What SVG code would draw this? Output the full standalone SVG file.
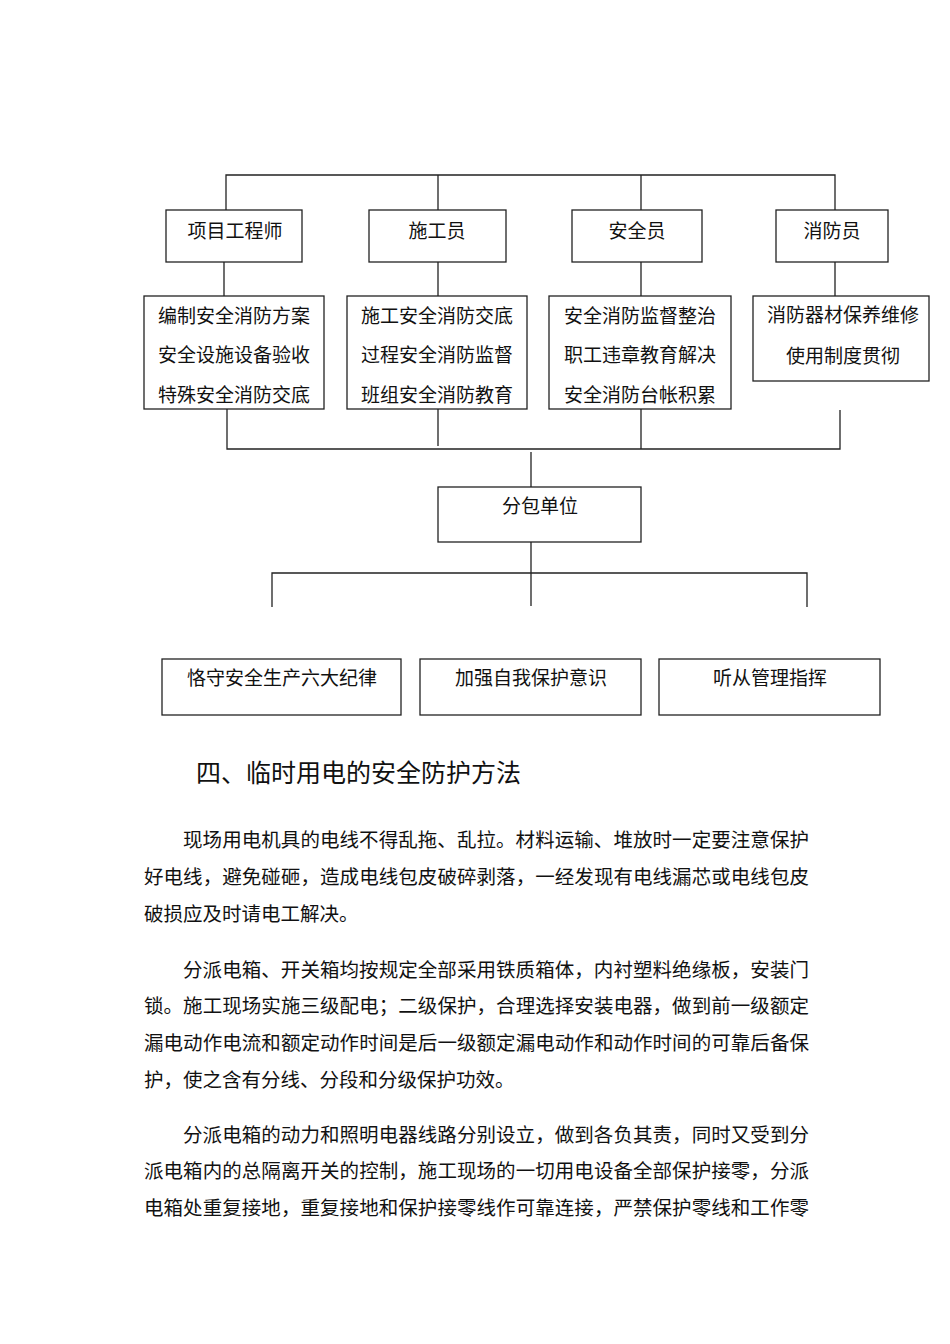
<svg xmlns="http://www.w3.org/2000/svg" width="950" height="1344" viewBox="0 0 950 1344">
<style>
.b{fill:#fff;stroke:#222;stroke-width:1.3}
.c{fill:none;stroke:#222;stroke-width:1.3}
.t{font-family:"Noto Sans CJK SC","Liberation Serif",serif;font-size:19px;fill:#111;text-anchor:middle}
.h{font-family:"Noto Sans CJK SC","Liberation Serif",serif;font-size:25px;fill:#111}
.p{font-family:"Noto Sans CJK SC","Liberation Serif",serif;font-size:19.5px;fill:#111}
</style>
<rect width="950" height="1344" fill="#fff"/>
<g id="connectors" class="c">
<path d="M226 210V175H835V210M438 175V210M641 175V210"/>
<path d="M224 262V296M438 262V296M641 262V296M835 262V296"/>
<path d="M227 409V449H840V410M438 409V446M641 409V449"/>
<path d="M531 452V487"/>
<path d="M531 542V606M272 607V573H807V607"/>
</g>
<g id="n1"><rect class="b" x="166" y="210" width="136" height="52"/><text class="t" x="235" y="238">项目工程师</text></g>
<g id="n2"><rect class="b" x="369" y="210" width="137" height="52"/><text class="t" x="437" y="238">施工员</text></g>
<g id="n3"><rect class="b" x="572" y="210" width="130" height="52"/><text class="t" x="637" y="238">安全员</text></g>
<g id="n4"><rect class="b" x="776" y="210" width="112" height="52"/><text class="t" x="832" y="238">消防员</text></g>
<g id="n5"><rect class="b" x="144" y="296" width="180" height="113"/><text class="t" x="234" y="323">编制安全消防方案</text><text class="t" x="234" y="362">安全设施设备验收</text><text class="t" x="234" y="402">特殊安全消防交底</text></g>
<g id="n6"><rect class="b" x="347" y="296" width="180" height="113"/><text class="t" x="437" y="323">施工安全消防交底</text><text class="t" x="437" y="362">过程安全消防监督</text><text class="t" x="437" y="402">班组安全消防教育</text></g>
<g id="n7"><rect class="b" x="549" y="296" width="182" height="113"/><text class="t" x="640" y="323">安全消防监督整治</text><text class="t" x="640" y="362">职工违章教育解决</text><text class="t" x="640" y="402">安全消防台帐积累</text></g>
<g id="n8"><rect class="b" x="753" y="296" width="176" height="85"/><text class="t" x="843" y="322">消防器材保养维修</text><text class="t" x="843" y="363">使用制度贯彻</text></g>
<g id="n9"><rect class="b" x="438" y="487" width="203" height="55"/><text class="t" x="540" y="513">分包单位</text></g>
<g id="n10"><rect class="b" x="162" y="659" width="239" height="56"/><text class="t" x="282" y="685">恪守安全生产六大纪律</text></g>
<g id="n11"><rect class="b" x="420" y="659" width="221" height="56"/><text class="t" x="531" y="685">加强自我保护意识</text></g>
<g id="n12"><rect class="b" x="659" y="659" width="221" height="56"/><text class="t" x="770" y="685">听从管理指挥</text></g>
<text class="h" x="196" y="782">四、临时用电的安全防护方法</text>
<g id="body" class="p">
<text x="183" y="847" textLength="626" lengthAdjust="spacing">现场用电机具的电线不得乱拖、乱拉。材料运输、堆放时一定要注意保护</text>
<text x="144" y="884" textLength="665" lengthAdjust="spacing">好电线，避免碰砸，造成电线包皮破碎剥落，一经发现有电线漏芯或电线包皮</text>
<text x="144" y="921">破损应及时请电工解决。</text>
<text x="183" y="977" textLength="626" lengthAdjust="spacing">分派电箱、开关箱均按规定全部采用铁质箱体，内衬塑料绝缘板，安装门</text>
<text x="144" y="1013" textLength="665" lengthAdjust="spacing">锁。施工现场实施三级配电；二级保护，合理选择安装电器，做到前一级额定</text>
<text x="144" y="1050" textLength="665" lengthAdjust="spacing">漏电动作电流和额定动作时间是后一级额定漏电动作和动作时间的可靠后备保</text>
<text x="144" y="1087">护，使之含有分线、分段和分级保护功效。</text>
<text x="183" y="1142" textLength="626" lengthAdjust="spacing">分派电箱的动力和照明电器线路分别设立，做到各负其责，同时又受到分</text>
<text x="144" y="1178" textLength="665" lengthAdjust="spacing">派电箱内的总隔离开关的控制，施工现场的一切用电设备全部保护接零，分派</text>
<text x="144" y="1215" textLength="665" lengthAdjust="spacing">电箱处重复接地，重复接地和保护接零线作可靠连接，严禁保护零线和工作零</text>
</g>
</svg>
